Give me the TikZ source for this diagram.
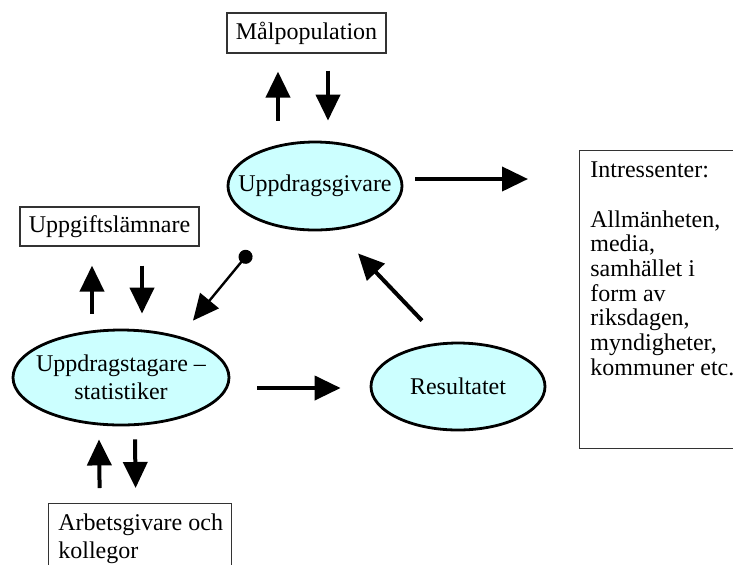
\documentclass[tikz,border=0pt]{standalone}
\usepackage{fontspec}
\setmainfont{Liberation Serif}
\usetikzlibrary{positioning,calc,shapes.geometric,arrows.meta}
\definecolor{ovalfill}{HTML}{CCFFFF}

\begin{document}
\begin{tikzpicture}[x=0.5pt,y=-0.5pt,
    every node/.style={font=\fontsize{12}{14}\selectfont},
    oval/.style={ellipse,draw,line width=1.4pt,fill=ovalfill,inner xsep=-8pt,inner ysep=0pt,align=center},
    party/.style={rectangle,draw=black!80,line width=0.6pt,inner sep=0pt},
    flow/.style={line width=2pt,-{Triangle[length=13pt,width=12pt]}},
    order/.style={line width=1.2pt,{Circle[length=7pt]}-{Triangle[length=13pt,width=12pt]}}]
    \useasboundingbox (0,0) rectangle (733,564);
    \node[party,minimum width=79.5pt,minimum height=20pt] (malpop) at (306.5,33) {Målpopulation};
    \node[oval,minimum width=87pt,minimum height=44pt] (givare) at (315,186) {Uppdragsgivare};
    \node[party,minimum width=89.5pt,minimum height=19.5pt] (lamnare) at (109.5,226.5) {Uppgiftslämnare};
    \node[oval,minimum width=108pt,minimum height=47.5pt] (tagare) at (121,377.5) {Uppdragstagare –\\statistiker};
    \node[oval,minimum width=87pt,minimum height=43.5pt] (result) at (458,386.5) {Resultatet};
    \node[party,anchor=north west,minimum width=91.5pt,minimum height=40pt] (arbete) at (48,503) {};
    \node[anchor=north west,align=left,inner sep=0pt] (arbtext) at (58,513) {Arbetsgivare och\\kollegor};
    \node[party,anchor=north west,minimum width=100pt,minimum height=149pt] (intr) at (579,150) {};
    \node[anchor=north west,align=left,inner sep=0pt,font=\fontsize{12}{12.35}\selectfont] (intrtext) at (590,161)
      {Intressenter:\\[12.6pt]Allmänheten,\\media,\\samhället i\\form av\\riksdagen,\\myndigheter,\\kommuner etc.};
    \draw[flow] ($(givare.north)+(-37,-20)$) -- ($(malpop.south)+(-28.5,18)$);
    \draw[flow] ($(malpop.south)+(21.5,17)$) -- ($(givare.north)+(13,-20)$);
    \draw[flow] ($(givare.east)+(12,-7)$) -- ($(givare.east -| intr.west)+(-51,-7)$);
    \draw[flow] ($(tagare.north)+(-29,-15)$) -- ($(lamnare.south)+(-17.5,19)$);
    \draw[flow] ($(lamnare.south)+(32.5,19)$) -- ($(tagare.north)+(21,-15)$);
    \draw[order] ($(givare.south)+(-65,20)$) -- ($(tagare.north)+(72,-8)$);
    \draw[flow] ($(tagare.east)+(27,10.5)$) -- ($(result.west)+(-29,1.5)$);
    \draw[flow] ($(result.north)+(-36,-21)$) -- ($(givare.south)+(43,22)$);
    \draw[flow] ($(arbete.north)+(-40.5,-15)$) -- ($(tagare.south)+(-22,13)$);
    \draw[flow] ($(tagare.south)+(14,13)$) -- ($(arbete.north)+(-4.5,-15)$);
  \end{tikzpicture}
\end{document}
